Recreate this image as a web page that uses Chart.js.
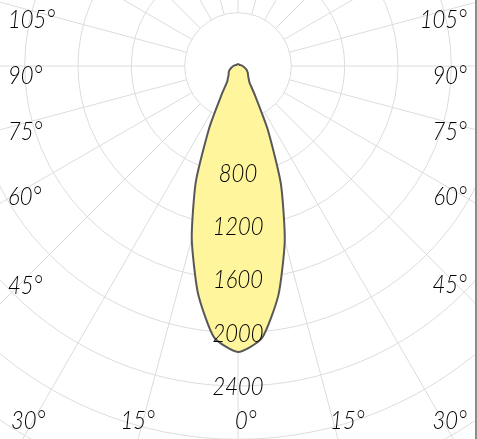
<!DOCTYPE html>
<html>
<head>
<meta charset="utf-8">
<script src="https://cdn.jsdelivr.net/npm/chart.js@4.4.0/dist/chart.umd.min.js"></script>
<style>
  html, body { margin: 0; padding: 0; background: #fff; }
  #wrap { position: relative; width: 475px; height: 439px; overflow: hidden; border-right: 2px solid #8c8c8c; }
  #polar { position: absolute; left: -242px; top: -414px; }
</style>
</head>
<body>
<div id="wrap"><canvas id="polar" width="960" height="960"></canvas></div>
<script>
// angles every 5 degrees, 0 = straight down, going round to the left first
const angles = [
  0, 5, 10, 15, 20, 25, 30, 35, 40, 45, 50, 55, 60, 65, 70, 75, 80, 85,
  90, 95, 100, 105, 110, 115, 120, 125, 130, 135, 140, 145, 150, 155, 160, 165, 170, 175,
  180, 185, 190, 195, 200, 205, 210, 215, 220, 225, 230, 235, 240, 245, 250, 255, 260, 265,
  270, 275, 280, 285, 290, 295, 300, 305, 310, 315, 320, 325, 330, 335, 340, 345, 350, 355
];
// luminous intensity (cd)
const intensity = [
  2145, 2045, 1730, 1340, 925, 505, 240, 140, 118, 100, 92, 85, 78, 70, 60, 52, 45, 40,
  35, 30, 25, 22, 20, 18, 16, 14, 14, 14, 14, 14, 14, 14, 14, 14, 14, 14,
  14, 14, 14, 14, 14, 14, 14, 14, 14, 14, 14, 14, 16, 18, 20, 22, 25, 30,
  35, 40, 46, 54, 62, 72, 80, 90, 98, 108, 125, 150, 255, 530, 940, 1355, 1745, 2050
];
const ringLabels = [800, 1200, 1600, 2000, 2400];
const angleLabels = [0, 15, 30, 45, 60, 75, 90, 105];

const labelFont = 'italic 300 25px Lato, sans-serif';
const textSqueeze = 0.88;
const gridColor = '#dcdcdc';

// radial lines every 15°, starting at the 400 cd ring
const radialLines = {
  id: 'radialLines',
  beforeDatasetsDraw(chart) {
    const r = chart.scales.r;
    const ctx = chart.ctx;
    ctx.save();
    ctx.strokeStyle = gridColor;
    ctx.lineWidth = 1;
    angles.forEach((a, i) => {
      if (a % 15 !== 0) return;
      const p0 = r.getPointPositionForValue(i, 400);
      const p1 = r.getPointPositionForValue(i, r.max);
      ctx.beginPath();
      ctx.moveTo(p0.x, p0.y);
      ctx.lineTo(p1.x, p1.y);
      ctx.stroke();
    });
    ctx.restore();
  }
};

function putText(ctx, txt, x, y, align) {
  ctx.save();
  ctx.translate(x, y);
  ctx.scale(textSqueeze, 1);
  ctx.textAlign = align;
  ctx.fillText(txt, 0, 0);
  ctx.restore();
}

// ring values and angle labels
const labelsPlugin = {
  id: 'labelsPlugin',
  afterDatasetsDraw(chart) {
    const r = chart.scales.r;
    const ctx = chart.ctx;
    const cv = chart.canvas;
    const vx0 = -cv.offsetLeft, vy0 = -cv.offsetTop;
    const vw = 475;
    ctx.save();
    ctx.font = labelFont;
    ctx.fillStyle = '#000';
    ctx.textBaseline = 'middle';

    ringLabels.forEach(v => {
      const p = r.getPointPositionForValue(0, v);
      putText(ctx, String(v), p.x, p.y + 1, 'center');
    });

    const xc = r.xCenter, yc = r.yCenter;
    angleLabels.forEach(a => {
      [-1, 1].forEach(side => {
        if (a === 0 && side === 1) return;
        const idx = angles.indexOf(side < 0 ? a : (360 - a) % 360);
        const p = r.getPointPosition(idx, 100);
        const dx = (p.x - xc) / 100, dy = (p.y - yc) / 100;
        const txt = a + '°';
        const w = ctx.measureText(txt).width * textSqueeze;
        if (a >= 45) {
          const edgeX = side < 0 ? vx0 + 28 : vx0 + vw - 28;
          const t = (edgeX - xc) / dx;
          const y = yc + t * dy + 10;
          putText(ctx, txt, side < 0 ? vx0 + 8 : vx0 + vw - 8, y, side < 0 ? 'left' : 'right');
        } else {
          const y = vy0 + 421;
          const x = xc + (y - yc) / dy * dx;
          if (side < 0 && a > 0) {
            let end = x + 12;
            if (end - w < vx0 + 11) end = vx0 + 11 + w;
            putText(ctx, txt, end, y, 'right');
          } else {
            let start = x - 3;
            if (start + w > vx0 + vw - 8) start = vx0 + vw - 8 - w;
            putText(ctx, txt, start, y, 'left');
          }
        }
      });
    });
    ctx.restore();
  }
};

new Chart(document.getElementById('polar'), {
  type: 'radar',
  data: {
    labels: angles.map(a => a + '°'),
    datasets: [{
      data: intensity,
      backgroundColor: '#fff59c',
      borderColor: '#58585a',
      borderWidth: 2,
      pointRadius: 0,
      tension: 0.2,
      fill: true
    }]
  },
  options: {
    responsive: false,
    animation: false,
    plugins: { legend: { display: false }, tooltip: { enabled: false } },
    scales: {
      r: {
        min: 0,
        max: 3600,
        startAngle: 180,
        ticks: { display: false, stepSize: 400 },
        grid: { circular: true, color: gridColor, lineWidth: 1 },
        angleLines: { display: false },
        pointLabels: { display: false }
      }
    }
  },
  plugins: [radialLines, labelsPlugin]
});
</script>
</body>
</html>
